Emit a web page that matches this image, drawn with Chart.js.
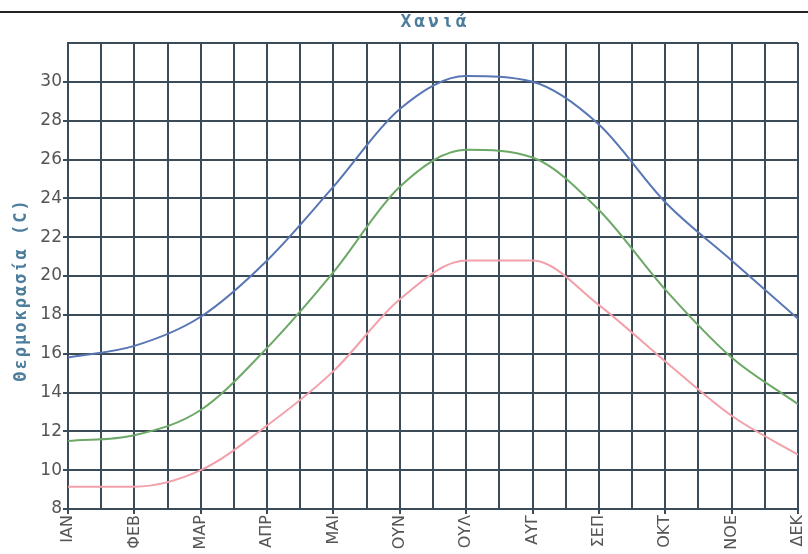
<!DOCTYPE html>
<html><head><meta charset="utf-8">
<style>html,body{margin:0;padding:0;background:#fff}#wrap{position:relative;width:808px;height:554px}</style>
<script src="https://cdn.jsdelivr.net/npm/chart.js@4/dist/chart.umd.min.js"></script>
</head><body><div id="wrap"><canvas id="c" width="808" height="554"></canvas></div>
<script>
const titleText = 'Χανιά';
const yTitle = 'Θερμοκρασία (C)';
const months = ['ΙΑΝ','ΦΕΒ','ΜΑΡ','ΑΠΡ','ΜΑΙ','ΟΥΝ','ΟΥΛ','ΑΥΓ','ΣΕΠ','ΟΚΤ','ΝΟΕ','ΔΕΚ'];
const tMax  = [15.8, 16.4, 17.9, 20.8, 24.6, 28.6, 30.3, 30.0, 27.8, 23.8, 20.8, 17.8];
const tMean = [11.5, 11.8, 13.1, 16.3, 20.2, 24.6, 26.5, 26.1, 23.4, 19.3, 15.8, 13.4];
const tMin  = [9.15, 9.15, 10.0, 12.3, 15.1, 18.8, 20.8, 20.8, 18.5, 15.6, 12.8, 10.8];
const yTicks = [8,10,12,14,16,18,20,22,24,26,28,30];

const toPts = arr => arr.map((v,i)=>({x:i,y:v}));
const gridCol = '#3b4c58';

const deco = {
  id:'deco',
  afterDraw(chart){
    const ctx = chart.ctx, ca = chart.chartArea;
    ctx.save();
    ctx.fillStyle = '#222';
    ctx.fillRect(0, 11, 808, 2);
    ctx.fillStyle = '#4d7d9c';
    ctx.font = 'bold 18px "DejaVu Sans Mono"';
    ctx.letterSpacing = '3px';
    ctx.textAlign = 'center';
    ctx.textBaseline = 'middle';
    ctx.fillText(titleText, (ca.left+ca.right)/2 + 2, 22);
    ctx.font = 'bold 17px "DejaVu Sans Mono"';
    ctx.letterSpacing = '2px';
    ctx.translate(22, 290);
    ctx.rotate(-Math.PI/2);
    ctx.fillText(yTitle, 0, 0);
    ctx.restore();
  }
};

const ds = (data, color) => ({
  data: toPts(data), borderColor: color, backgroundColor: color,
  borderWidth: 2, pointRadius: 0, fill: false, cubicInterpolationMode: 'monotone'
});

new Chart(document.getElementById('c'), {
  type: 'line',
  data: { datasets: [ ds(tMax, '#5876b4'), ds(tMean, '#6ca866'), ds(tMin, '#f2a0aa') ] },
  options: {
    responsive: false, animation: false, devicePixelRatio: 1,
    layout: { padding: { top: 43, left: 0, right: 10, bottom: 0 } },
    plugins: { legend: { display: false }, title: { display: false }, tooltip: { enabled: false } },
    scales: {
      x: {
        type: 'linear', min: 0, max: 11,
        afterBuildTicks: s => { const t=[]; for (let v=0; v<=22; v++) t.push({value:v/2}); s.ticks = t; },
        afterFit: s => { s.height = 45; s.paddingLeft = 0; s.paddingRight = 0; },
        grid: { color: gridCol, lineWidth: 2, tickLength: 5,
                tickColor: c => Number.isInteger(c.tick && c.tick.value) ? gridCol : 'rgba(0,0,0,0)' },
        border: { display: true, color: gridCol, width: 2 },
        ticks: { autoSkip: false, maxRotation: 90, minRotation: 90, padding: 1, color: '#555',
                 font: { family: 'DejaVu Sans', size: 16 },
                 callback: v => Number.isInteger(v) ? months[v] : '' }
      },
      y: {
        min: 8, max: 32,
        afterBuildTicks: s => { s.ticks = yTicks.concat([32]).map(v=>({value:v})); },
        afterFit: s => { s.width = 68; s.paddingTop = 0; s.paddingBottom = 0; },
        grid: { color: gridCol, lineWidth: 2, tickLength: 5,
                tickColor: c => (c.tick && c.tick.value === 32) ? 'rgba(0,0,0,0)' : gridCol },
        border: { display: true, color: gridCol, width: 2 },
        ticks: { padding: 1, color: '#555', font: { family: 'DejaVu Sans', size: 17 },
                 callback: v => yTicks.includes(v) ? String(v) : '' }
      }
    }
  },
  plugins: [deco]
});
</script></body></html>
